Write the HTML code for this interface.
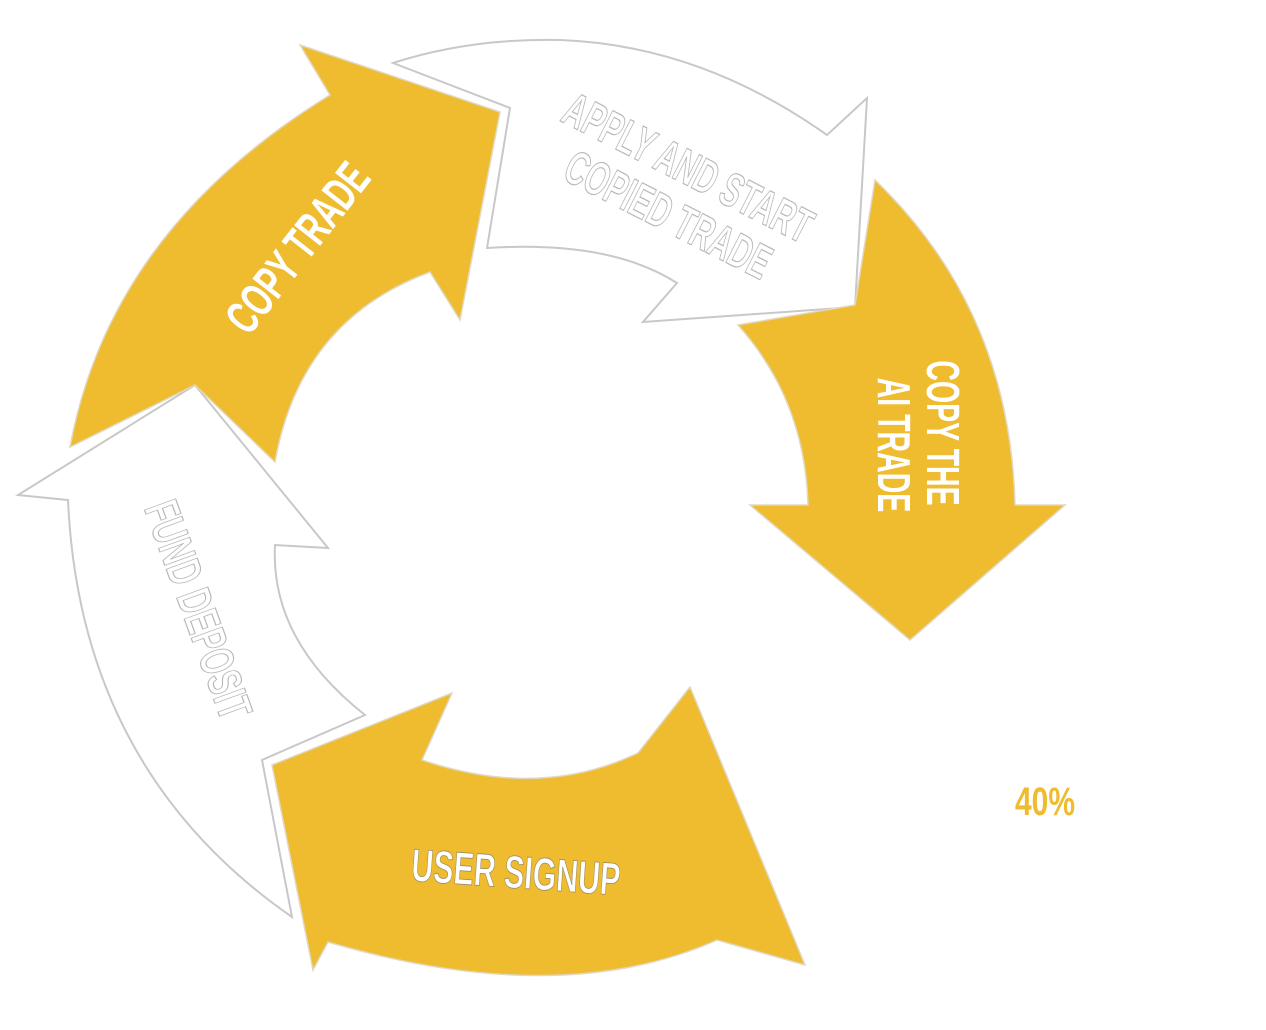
<!DOCTYPE html>
<html><head><meta charset="utf-8"><style>
html,body{margin:0;padding:0;background:#fff;}
svg{display:block}
text{font-family:"Liberation Sans Narrow","Liberation Sans",sans-serif;font-weight:bold;}
</style></head><body>
<svg width="1266" height="1030" viewBox="0 0 1266 1030" xmlns="http://www.w3.org/2000/svg">
<path d="M393,63 Q470,38 560,40 Q700,45 827,135 L867,98 L855,307 L643,322 L677,283 Q610,240 487,248 L510,108 Z" fill="#fff" stroke="#c8c8c8" stroke-width="2"/>
<path d="M195,385 L328,548 L275,545 Q270,640 365,715 L262,760 L292,917 Q80,770 68,500 L18,495 Z" fill="#fff" stroke="#c8c8c8" stroke-width="2"/>
<path d="M70,447 Q110,230 330,95 L300,45 L500,112 L460,320 L430,272 Q300,320 275,462 L195,385 Z" fill="#efbb2f" stroke="#e0d8c0" stroke-width="1.5"/>
<path d="M875,180 Q1010,310 1015,505 L1065,505 L910,640 L750,505 L808,505 Q805,400 738,325 L855,305 Z" fill="#efbb2f" stroke="#e0d8c0" stroke-width="1.5"/>
<path d="M452,693 L422,760 Q540,800 638,753 L690,687 L805,965 L717,940 Q560,1010 328,942 L313,970 L272,765 Z" fill="#efbb2f" stroke="#e0d8c0" stroke-width="1.5"/>
<g font-size="48" fill="#fff" stroke="#b8b8b8" stroke-width="1.2">
<text transform="translate(688,168) rotate(27) scale(0.62,1)" text-anchor="middle" y="16">APPLY AND START</text>
<text transform="translate(668,215) rotate(27) scale(0.62,1)" text-anchor="middle" y="16">COPIED TRADE</text>
</g>
<text transform="translate(298,248) rotate(-52) scale(0.64,1)" text-anchor="middle" font-size="48" fill="#fff" y="16">COPY TRADE</text>
<g font-size="46" fill="#fff">
<text transform="translate(925,433) rotate(90) scale(0.62,1)" text-anchor="middle" y="-2">COPY THE</text>
<text transform="translate(876,445) rotate(90) scale(0.62,1)" text-anchor="middle" y="-2">AI TRADE</text>
</g>
<text transform="translate(198,610) rotate(70) scale(0.64,1)" text-anchor="middle" font-size="48" fill="#fff" stroke="#b8b8b8" stroke-width="1.2" y="16">FUND DEPOSIT</text>
<text transform="translate(516,872) rotate(4) scale(0.66,1)" text-anchor="middle" font-size="46" fill="#fff" stroke="#9a8a60" stroke-width="0.8" y="16">USER SIGNUP</text>
<text x="1045" y="815" text-anchor="middle" font-size="40" fill="#efbb2f" transform="translate(1045,0) scale(0.75,1) translate(-1045,0)">40%</text>
</svg>
</body></html>
